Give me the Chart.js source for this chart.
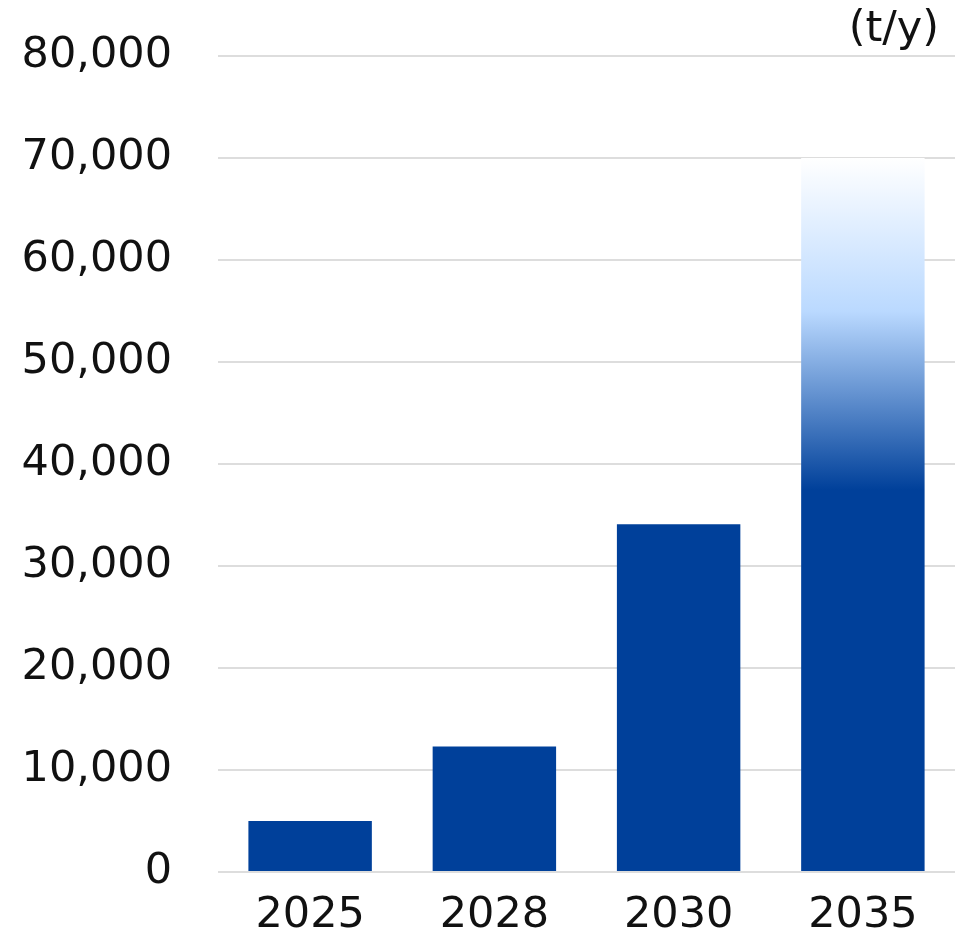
<!DOCTYPE html>
<html>
<head>
<meta charset="utf-8">
<script src="https://cdn.jsdelivr.net/npm/chart.js@4"></script>
<style>
  html, body { margin: 0; padding: 0; background: #fff; }
  #wrap { width: 958px; height: 930px; }
</style>
</head>
<body>
<div id="wrap"><canvas id="prodChart" width="958" height="930"></canvas></div>
<script>
const years = ["2025", "2028", "2030", "2035"];
const volumes = [5000, 12300, 34100, 70000];
const yTicks = [0, 10000, 20000, 30000, 40000, 50000, 60000, 70000, 80000];
const unitLabel = "(t/y)";

const navy = "#00409a";

function barFill(ctx) {
  const chart = ctx.chart;
  if (ctx.dataIndex !== 3 || !chart.chartArea) return navy;
  const y = chart.scales.y;
  const top = y.getPixelForValue(volumes[3]);
  const bottom = y.getPixelForValue(0);
  const g = chart.ctx.createLinearGradient(0, top, 0, bottom);
  g.addColorStop(0, "#ffffff");
  g.addColorStop(0.215, "#bad9ff");
  g.addColorStop(0.465, navy);
  g.addColorStop(1, navy);
  return g;
}

const unitPlugin = {
  id: "unitText",
  afterDraw(chart) {
    const c = chart.ctx;
    c.save();
    c.font = "43px 'DejaVu Sans'";
    c.fillStyle = "#111";
    c.textAlign = "right";
    c.textBaseline = "middle";
    c.fillText(unitLabel, chart.chartArea.right - 16, 30);
    c.restore();
  }
};

new Chart(document.getElementById("prodChart"), {
  type: "bar",
  data: {
    labels: years,
    datasets: [{
      data: volumes,
      backgroundColor: barFill,
      categoryPercentage: 1,
      barPercentage: 0.67
    }]
  },
  options: {
    responsive: false,
    animation: false,
    layout: { padding: { top: 56, right: 3, left: 22, bottom: 0 } },
    plugins: { legend: { display: false }, tooltip: { enabled: false } },
    scales: {
      x: {
        afterFit(axis) { axis.height = 58; axis.paddingLeft = 0; axis.paddingRight = 0; },
        grid: { display: false },
        border: { display: false },
        ticks: { color: "#111", font: { family: "DejaVu Sans", size: 43, lineHeight: 1 }, padding: 14 }
      },
      y: {
        min: 0,
        max: 80000,
        afterFit(axis) { axis.width = 196; axis.paddingTop = 0; axis.paddingBottom = 0; },
        afterBuildTicks(axis) { axis.ticks = yTicks.map(v => ({ value: v })); },
        grid: { color: "#dddddd", lineWidth: 2, drawTicks: false },
        border: { display: false },
        ticks: {
          color: "#111",
          font: { family: "DejaVu Sans", size: 43 },
          padding: 46,
          callback: v => v.toLocaleString("en-US")
        }
      }
    }
  },
  plugins: [unitPlugin]
});
</script>
</body>
</html>
